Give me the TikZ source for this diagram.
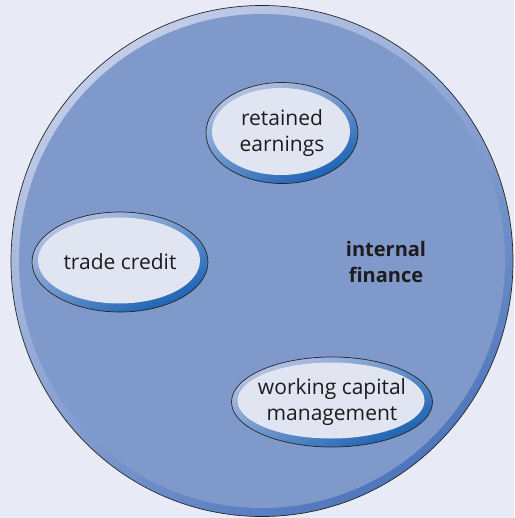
\documentclass[tikz,border=0pt]{standalone}
\usepackage{fontspec}
\setmainfont{Open Sans}
\usepackage{tikz}
\usetikzlibrary{shapes.geometric}
\definecolor{pagebg}{HTML}{E8EAF5}
\definecolor{discfill}{HTML}{7F99CB}
\definecolor{discrimlight}{HTML}{C2CDE8}
\definecolor{discrimdark}{HTML}{4F76BC}
\definecolor{bubblefill}{HTML}{E1E5F2}
\definecolor{bubblerimlight}{HTML}{B5C3E3}
\definecolor{bubblerimdark}{HTML}{1A62B3}
\definecolor{textgrey}{HTML}{1E1B1C}

\begin{document}
\begin{tikzpicture}[
  x=1pt, y=-1pt,
  font=\fontsize{21}{26}\selectfont, text=textgrey,
  disc/.style={ellipse, draw=black!85, line width=0.7pt, inner sep=0pt,
               minimum width=502pt, minimum height=511pt,
               top color=discrimlight, bottom color=discrimdark, shading angle=35,
               path picture={\fill[discfill] (path picture bounding box.center)
                             ellipse (243pt and 247pt);}},
  bubble/.style n args={2}{ellipse, draw=black!85, line width=0.7pt, inner sep=0pt,
               align=center, minimum width=#1, minimum height=#2,
               top color=bubblerimlight, bottom color=bubblerimdark, shading angle=25,
               path picture={\fill[bubblefill] ([xshift=-1pt,yshift=1.5pt]path picture bounding box.center)
                             ellipse ({#1/2-7pt} and {#2/2-7pt});}},
  tag/.style={font=\fontsize{20}{26}\selectfont\bfseries, align=center}
]
\fill[pagebg] (0,0) rectangle (514,518);
\node[disc] (internal) at (262,261) {};
\node[tag] (intlabel) at (386,262) {internal\\finance};
% sources of internal finance
\node[bubble={152pt}{101pt}] (retained) at (282,133) {retained\\earnings};
\node[bubble={176pt}{100pt}] (trade) at (120,262) {trade credit};
\node[bubble={201pt}{90pt}, inner xsep=-12pt] (working) at (332,402) {working capital\\management};
\end{tikzpicture}
\end{document}
